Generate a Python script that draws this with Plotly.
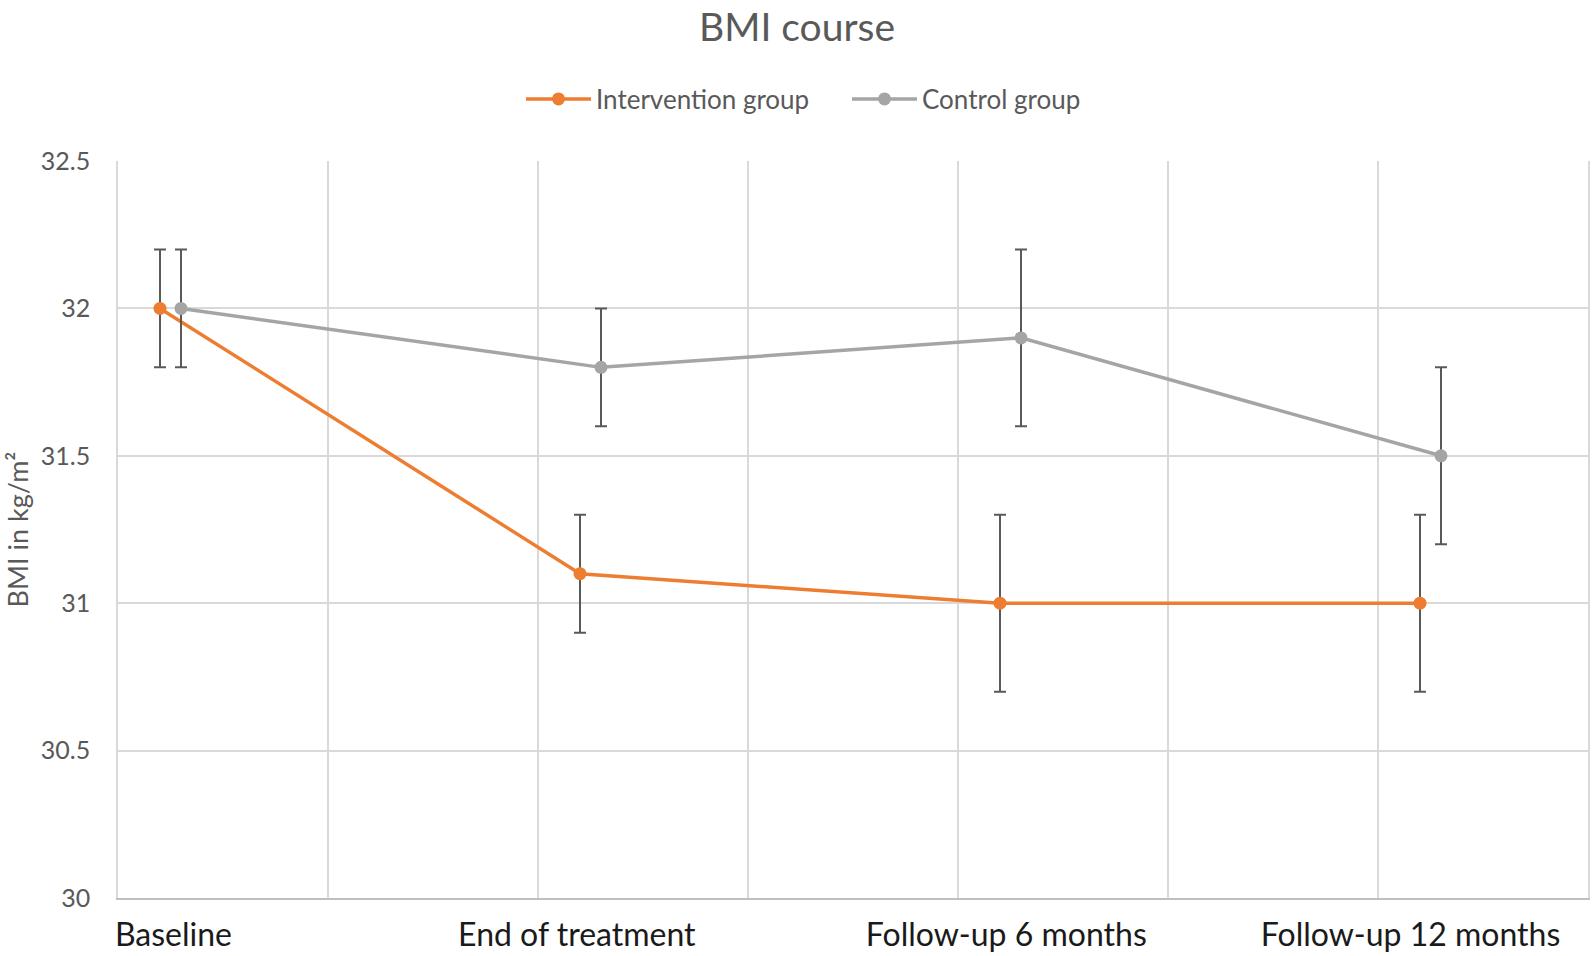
import plotly.graph_objects as go

# ---- data ----
categories = ["Baseline", "End of treatment", "Follow-up 6 months", "Follow-up 12 months"]
intervention_bmi = [32.0, 31.1, 31.0, 31.0]
intervention_err = [0.2, 0.2, 0.3, 0.3]
control_bmi = [32.0, 31.8, 31.9, 31.5]
control_err = [0.2, 0.2, 0.3, 0.3]
y_ticks = [30, 30.5, 31, 31.5, 32, 32.5]
y_tick_labels = ["30", "30.5", "31", "31.5", "32", "32.5"]

# ---- layout helpers (positions, not data) ----
idx = list(range(len(categories)))
x_int = [2 * i + 0.2 for i in idx]
x_ctl = [2 * i + 0.3 for i in idx]
label_pos = [0.264, 2.185, 4.23, 6.155]

FONT = "Lato, 'Open Sans', sans-serif"
ORANGE = "#ED7D31"
GRAY = "#A5A5A5"
ERR = "#595959"

L, R, T, B = 118, 6, 161, 58
PLOT_W = 1594 - L - R
PLOT_H = 956 - T - B

fig = go.Figure()
fig.add_trace(go.Scatter(
    x=x_int, y=intervention_bmi, name="Intervention group", mode="lines+markers",
    line=dict(color=ORANGE, width=3.5), marker=dict(color=ORANGE, size=13),
    error_y=dict(type="data", array=intervention_err, visible=True, color=ERR, thickness=2, width=6),
    legendwidth=246,
))
fig.add_trace(go.Scatter(
    x=x_ctl, y=control_bmi, name="Control group", mode="lines+markers",
    line=dict(color=GRAY, width=3.5), marker=dict(color=GRAY, size=13),
    error_y=dict(type="data", array=control_err, visible=True, color=ERR, thickness=2, width=6),
))

fig.update_layout(
    width=1594, height=956,
    paper_bgcolor="white", plot_bgcolor="white",
    margin=dict(l=L, r=R, t=T, b=B, autoexpand=False),
    font=dict(family=FONT, color="#595959"),
    title=dict(text="BMI course", x=0.5, xanchor="center", y=0.971, yanchor="middle",
               font=dict(size=39, color="#595959", family=FONT)),
    legend=dict(orientation="h", x=(521 - L) / PLOT_W, xanchor="left",
                y=(956 - B - 99) / PLOT_H, yanchor="middle",
                font=dict(size=26, color="#595959", family=FONT), itemwidth=65,
                bgcolor="rgba(0,0,0,0)"),
    showlegend=True,
    annotations=[dict(
        text="BMI in kg/m²", textangle=-90, showarrow=False,
        xref="paper", yref="paper", x=(17 - L) / PLOT_W, y=0.5,
        xanchor="center", yanchor="middle",
        font=dict(size=27, color="#595959", family=FONT),
    )],
)

fig.update_xaxes(
    range=[0, 7], tickmode="array", tickvals=label_pos, ticktext=categories,
    showgrid=False, zeroline=False,
    ticks="outside", ticklen=8, tickcolor="rgba(0,0,0,0)",
    tickfont=dict(size=32, color="#1a1a1a", family=FONT),
    showline=True, linecolor="#BFBFBF", linewidth=2,
    minor=dict(tickmode="linear", tick0=0, dtick=1, showgrid=True, gridcolor="#D9D9D9", gridwidth=1.5, ticklen=0),
)
fig.update_yaxes(
    range=[30, 32.5], tickmode="array", tickvals=y_ticks, ticktext=y_tick_labels,
    showgrid=True, gridcolor="#D9D9D9", gridwidth=1.5, zeroline=False,
    ticks="outside", ticklen=21, tickcolor="rgba(0,0,0,0)",
    tickfont=dict(size=25, color="#595959", family=FONT),
    showline=True, linecolor="#D9D9D9", linewidth=1.5, mirror=True,
)

fig.write_html("out.html", config={"displayModeBar": False},
               post_script="document.body.style.margin='0px';document.body.style.padding='0px';")
